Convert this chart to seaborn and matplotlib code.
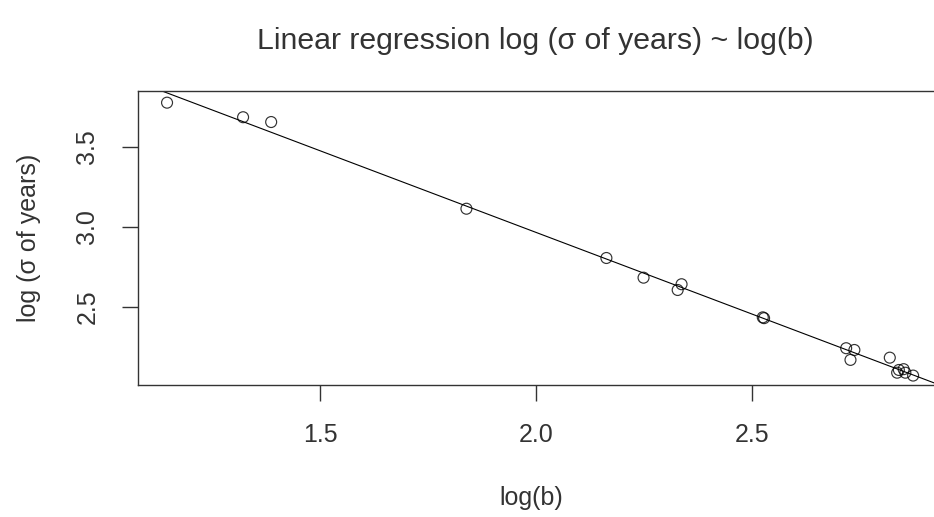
import matplotlib
matplotlib.use("Agg")
import matplotlib.pyplot as plt
import seaborn as sns
import pandas as pd

# ==================
# Data
# ==================

log_b = [
    1.145, 1.321, 1.386, 1.838,
    2.162, 2.248, 2.336, 2.327,
    2.524, 2.527,
    2.717, 2.736, 2.727,
    2.818,
    2.839, 2.850, 2.835, 2.854,
    2.872,
]

log_sigma_years = [
    3.777, 3.686, 3.656, 3.114,
    2.806, 2.683, 2.642, 2.606,
    2.435, 2.430,
    2.242, 2.231, 2.169,
    2.183,
    2.106, 2.111, 2.089, 2.089,
    2.071,
]

title_text = "Linear regression log (\u03c3 of years) ~ log(b)"
x_label = "log(b)"
y_label = "log (\u03c3 of years)"
x_ticks = [1.5, 2.0, 2.5]
y_ticks = [2.5, 3.0, 3.5]

df = pd.DataFrame(
    {
        "log_b": log_b,
        "log_sigma": log_sigma_years,
    }
)

# ==================
# Style
# ==================

sns.set_style("white")
plt.rcParams["font.family"] = ["Liberation Sans", "DejaVu Sans"]

text_color = "#333333"

fig = plt.figure(
    figsize=(9.34, 5.17),
    dpi=100
)

ax = fig.add_axes(
    [0.1474, 0.2553, 0.8617, 0.5687]
)

ax.set_xlim(1.077, 2.940)
ax.set_ylim(2.012, 3.850)

# ==================
# Scatter + fitted line
# ==================

sns.regplot(
    data=df,
    x="log_b",
    y="log_sigma",
    ax=ax,
    ci=None,
    truncate=False,
    scatter_kws={
        "s": 62,
        "facecolors": "none",
        "edgecolors": "black",
        "linewidths": 0.85,
    },
    line_kws={
        "color": "black",
        "linewidth": 0.8,
    },
)

ax.set_xlim(1.077, 2.940)
ax.set_ylim(2.012, 3.850)

# ==================
# Axes, ticks, labels
# ==================

for side in ["left", "right", "top", "bottom"]:
    ax.spines[side].set_visible(True)
    ax.spines[side].set_color(text_color)
    ax.spines[side].set_linewidth(1.0)

ax.set_xticks(x_ticks)
ax.set_xticklabels([f"{v:.1f}" for v in x_ticks])
ax.set_yticks(y_ticks)
ax.set_yticklabels(
    [f"{v:.1f}" for v in y_ticks],
    rotation=90,
    va="center"
)

ax.tick_params(
    axis="both",
    direction="out",
    length=11.5,
    width=1.0,
    color=text_color,
    labelsize=18,
    labelcolor=text_color,
    pad=16,
    bottom=True,
    left=True,
)

ax.set_xlabel(
    x_label,
    fontsize=18,
    color=text_color
)
ax.set_ylabel(
    y_label,
    fontsize=18,
    color=text_color
)

ax.xaxis.set_label_coords(0.4896, -0.385)
ax.xaxis.label.set_va("center")
ax.yaxis.set_label_coords(-0.1355, 0.5)
ax.yaxis.label.set_va("center")

fig.text(
    535 / 934,
    1 - 41 / 517,
    title_text,
    ha="center",
    va="center",
    fontsize=21.8,
    color=text_color
)

fig.savefig("out.png", dpi=100)
plt.close(fig)
